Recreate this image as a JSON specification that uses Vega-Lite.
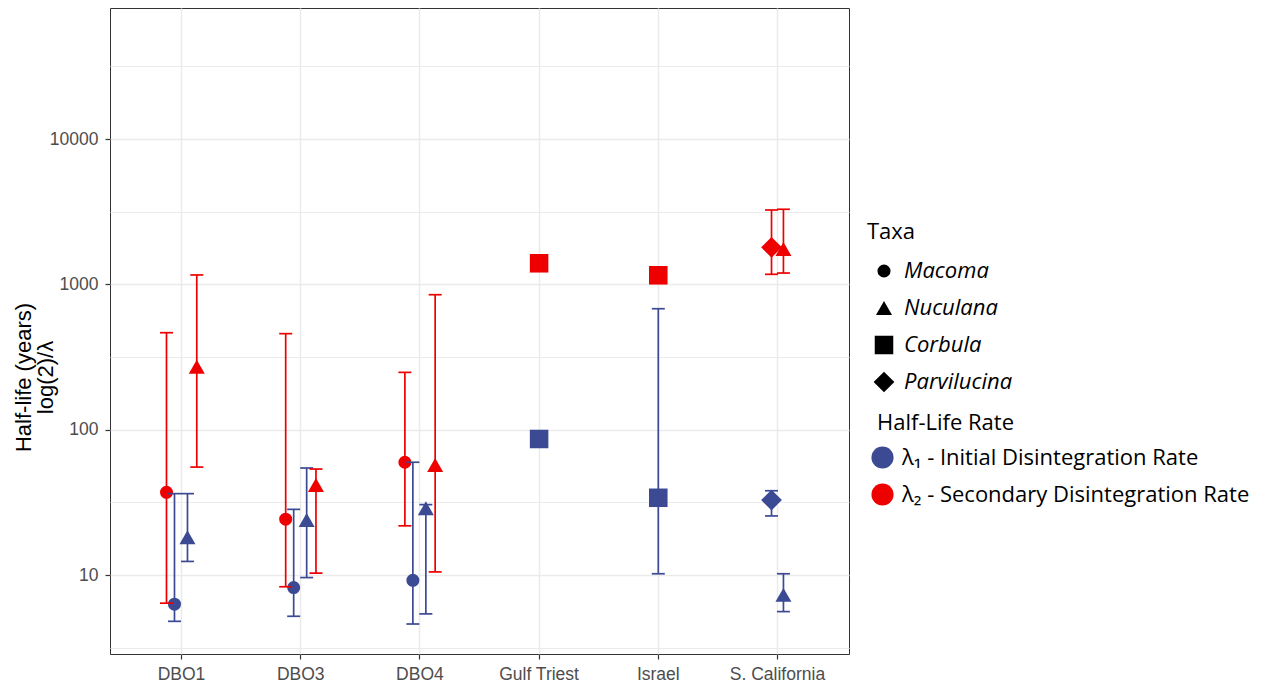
{
  "$schema": "https://vega.github.io/schema/vega-lite/v6.json",
  "width": 739,
  "height": 646,
  "autosize": "none",
  "padding": {"left": 110, "top": 8, "right": 421, "bottom": 31},
  "background": "white",
  "config": {
    "font": "Liberation Sans",
    "view": {"stroke": "#333333", "strokeWidth": 1},
    "axis": {
      "domain": false,
      "grid": true,
      "gridColor": "#EBEBEB",
      "gridWidth": 1.5,
      "tickColor": "#333333",
      "tickSize": 5,
      "tickWidth": 1.2,
      "labelColor": "#4D4D4D",
      "labelFont": "Liberation Sans",
      "labelFontSize": 17.5,
      "titleColor": "#000000",
      "titleFont": "Liberation Sans",
      "titleFontSize": 22,
      "titleFontWeight": "normal"
    },
    "legend": {
      "orient": "none",
      "padding": 0,
      "titleFont": "Open Sans",
      "titleFontWeight": "normal",
      "titleColor": "#000000",
      "labelFont": "Open Sans",
      "labelColor": "#000000",
      "labelFontSize": 22,
      "titleFontSize": 22,
      "labelLimit": 400
    }
  },
  "data": {
    "values": [
      {"site": "DBO1", "taxa": "Macoma", "rate": "λ₂ - Secondary Disintegration Rate", "halflife": 37.1, "lower": 6.4, "upper": 465},
      {"site": "DBO1", "taxa": "Macoma", "rate": "λ₁ - Initial Disintegration Rate", "halflife": 6.3, "lower": 4.8, "upper": 36.3},
      {"site": "DBO1", "taxa": "Nuculana", "rate": "λ₁ - Initial Disintegration Rate", "halflife": 18.2, "lower": 12.4, "upper": 36.3},
      {"site": "DBO1", "taxa": "Nuculana", "rate": "λ₂ - Secondary Disintegration Rate", "halflife": 271, "lower": 55.3, "upper": 1161},
      {"site": "DBO3", "taxa": "Macoma", "rate": "λ₂ - Secondary Disintegration Rate", "halflife": 24.2, "lower": 8.3, "upper": 458},
      {"site": "DBO3", "taxa": "Macoma", "rate": "λ₁ - Initial Disintegration Rate", "halflife": 8.2, "lower": 5.2, "upper": 28.3},
      {"site": "DBO3", "taxa": "Nuculana", "rate": "λ₁ - Initial Disintegration Rate", "halflife": 23.9, "lower": 9.6, "upper": 54.5},
      {"site": "DBO3", "taxa": "Nuculana", "rate": "λ₂ - Secondary Disintegration Rate", "halflife": 41.6, "lower": 10.3, "upper": 53.6},
      {"site": "DBO4", "taxa": "Macoma", "rate": "λ₂ - Secondary Disintegration Rate", "halflife": 59.7, "lower": 21.8, "upper": 248},
      {"site": "DBO4", "taxa": "Macoma", "rate": "λ₁ - Initial Disintegration Rate", "halflife": 9.2, "lower": 4.6, "upper": 59.7},
      {"site": "DBO4", "taxa": "Nuculana", "rate": "λ₁ - Initial Disintegration Rate", "halflife": 28.8, "lower": 5.4, "upper": 30.5},
      {"site": "DBO4", "taxa": "Nuculana", "rate": "λ₂ - Secondary Disintegration Rate", "halflife": 57.1, "lower": 10.5, "upper": 849},
      {"site": "Gulf Triest", "taxa": "Corbula", "rate": "λ₂ - Secondary Disintegration Rate", "halflife": 1397, "lower": null, "upper": null},
      {"site": "Gulf Triest", "taxa": "Corbula", "rate": "λ₁ - Initial Disintegration Rate", "halflife": 86.3, "lower": null, "upper": null},
      {"site": "Israel", "taxa": "Corbula", "rate": "λ₂ - Secondary Disintegration Rate", "halflife": 1155, "lower": null, "upper": null},
      {"site": "Israel", "taxa": "Corbula", "rate": "λ₁ - Initial Disintegration Rate", "halflife": 34.0, "lower": 10.2, "upper": 680},
      {"site": "S. California", "taxa": "Parvilucina", "rate": "λ₂ - Secondary Disintegration Rate", "halflife": 1800, "lower": 1173, "upper": 3250},
      {"site": "S. California", "taxa": "Parvilucina", "rate": "λ₁ - Initial Disintegration Rate", "halflife": 32.8, "lower": 25.5, "upper": 38.0},
      {"site": "S. California", "taxa": "Nuculana", "rate": "λ₂ - Secondary Disintegration Rate", "halflife": 1753, "lower": 1197, "upper": 3288},
      {"site": "S. California", "taxa": "Nuculana", "rate": "λ₁ - Initial Disintegration Rate", "halflife": 7.3, "lower": 5.6, "upper": 10.2}
    ]
  },
  "transform": [
    {
      "calculate": "datum.taxa === 'Corbula' ? 0 : datum.site === 'S. California' ? (datum.taxa === 'Parvilucina' ? -0.05 : 0.05) : datum.taxa === 'Macoma' ? (test(/Secondary/, datum.rate) ? -0.126 : -0.059) : (test(/Initial/, datum.rate) ? 0.05 : 0.128)",
      "as": "dodge"
    }
  ],
  "encoding": {
    "x": {
      "field": "site",
      "type": "nominal",
      "sort": ["DBO1", "DBO3", "DBO4", "Gulf Triest", "Israel", "S. California"],
      "scale": {"paddingInner": 0, "paddingOuter": 0.1},
      "axis": {"title": null, "labelAngle": 0, "labelPadding": 6}
    },
    "xOffset": {
      "field": "dodge",
      "type": "quantitative",
      "scale": {"domain": [-0.5, 0.5]}
    },
    "color": {
      "field": "rate",
      "type": "nominal",
      "scale": {
        "domain": ["λ₁ - Initial Disintegration Rate", "λ₂ - Secondary Disintegration Rate"],
        "range": ["#3C4A94", "#EE0000"]
      },
      "legend": {
        "title": "Half-Life Rate",
        "legendX": 767,
        "legendY": 405,
        "titlePadding": 11,
        "rowPadding": 14,
        "symbolType": "circle",
        "symbolSize": 490,
        "symbolOpacity": 1,
        "symbolStrokeWidth": 0,
        "symbolOffset": -6,
        "labelOffset": 8
      }
    }
  },
  "layer": [
    {
      "mark": {"type": "point", "filled": true, "opacity": 1},
      "encoding": {
        "y": {
          "field": "halflife",
          "type": "quantitative",
          "scale": {"type": "log", "domain": [2.86, 79800], "nice": false, "zero": false},
          "axis": {
            "values": [10, 100, 1000, 10000],
            "format": "d",
            "title": ["Half-life (years)", "    log(2)/λ"],
            "titleLineHeight": 22,
            "titleY": 369,
            "titleX": -75,
            "titleBaseline": "bottom",
            "labelPadding": 7
          }
        },
        "shape": {
          "field": "taxa",
          "type": "nominal",
          "scale": {
            "domain": ["Macoma", "Nuculana", "Corbula", "Parvilucina"],
            "range": ["circle", "triangle-up", "square", "diamond"]
          },
          "legend": {
            "title": "Taxa",
            "legendX": 757,
            "legendY": 214,
            "titlePadding": 16,
            "rowPadding": 15,
            "labelFontStyle": "italic",
            "symbolFillColor": "black",
            "symbolStrokeColor": "black",
            "symbolStrokeWidth": 0,
            "symbolOpacity": 1,
            "symbolOffset": 6,
            "labelOffset": 9
          }
        },
        "size": {
          "field": "taxa",
          "type": "nominal",
          "scale": {
            "domain": ["Macoma", "Nuculana", "Corbula", "Parvilucina"],
            "range": [170, 430, 205, 380]
          },
          "legend": {"title": "Taxa"}
        }
      }
    },
    {
      "mark": {"type": "rule", "strokeWidth": 1.7},
      "encoding": {
        "y": {"field": "lower", "type": "quantitative", "axis": null},
        "y2": {"field": "upper"}
      }
    },
    {
      "mark": {"type": "tick", "thickness": 1.7, "size": 13, "opacity": 1},
      "encoding": {"y": {"field": "lower", "type": "quantitative", "axis": null}}
    },
    {
      "mark": {"type": "tick", "thickness": 1.7, "size": 13, "opacity": 1},
      "encoding": {"y": {"field": "upper", "type": "quantitative", "axis": null}}
    },
    {
      "mark": {"type": "rule", "opacity": 0},
      "encoding": {
        "y": {
          "field": "halflife",
          "type": "quantitative",
          "axis": {
            "orient": "right",
            "values": [3.1623, 31.623, 316.23, 3162.3, 31623],
            "grid": true,
            "gridWidth": 1,
            "labels": false,
            "ticks": false,
            "title": null
          }
        }
      }
    }
  ],
  "resolve": {"axis": {"y": "independent"}}
}
